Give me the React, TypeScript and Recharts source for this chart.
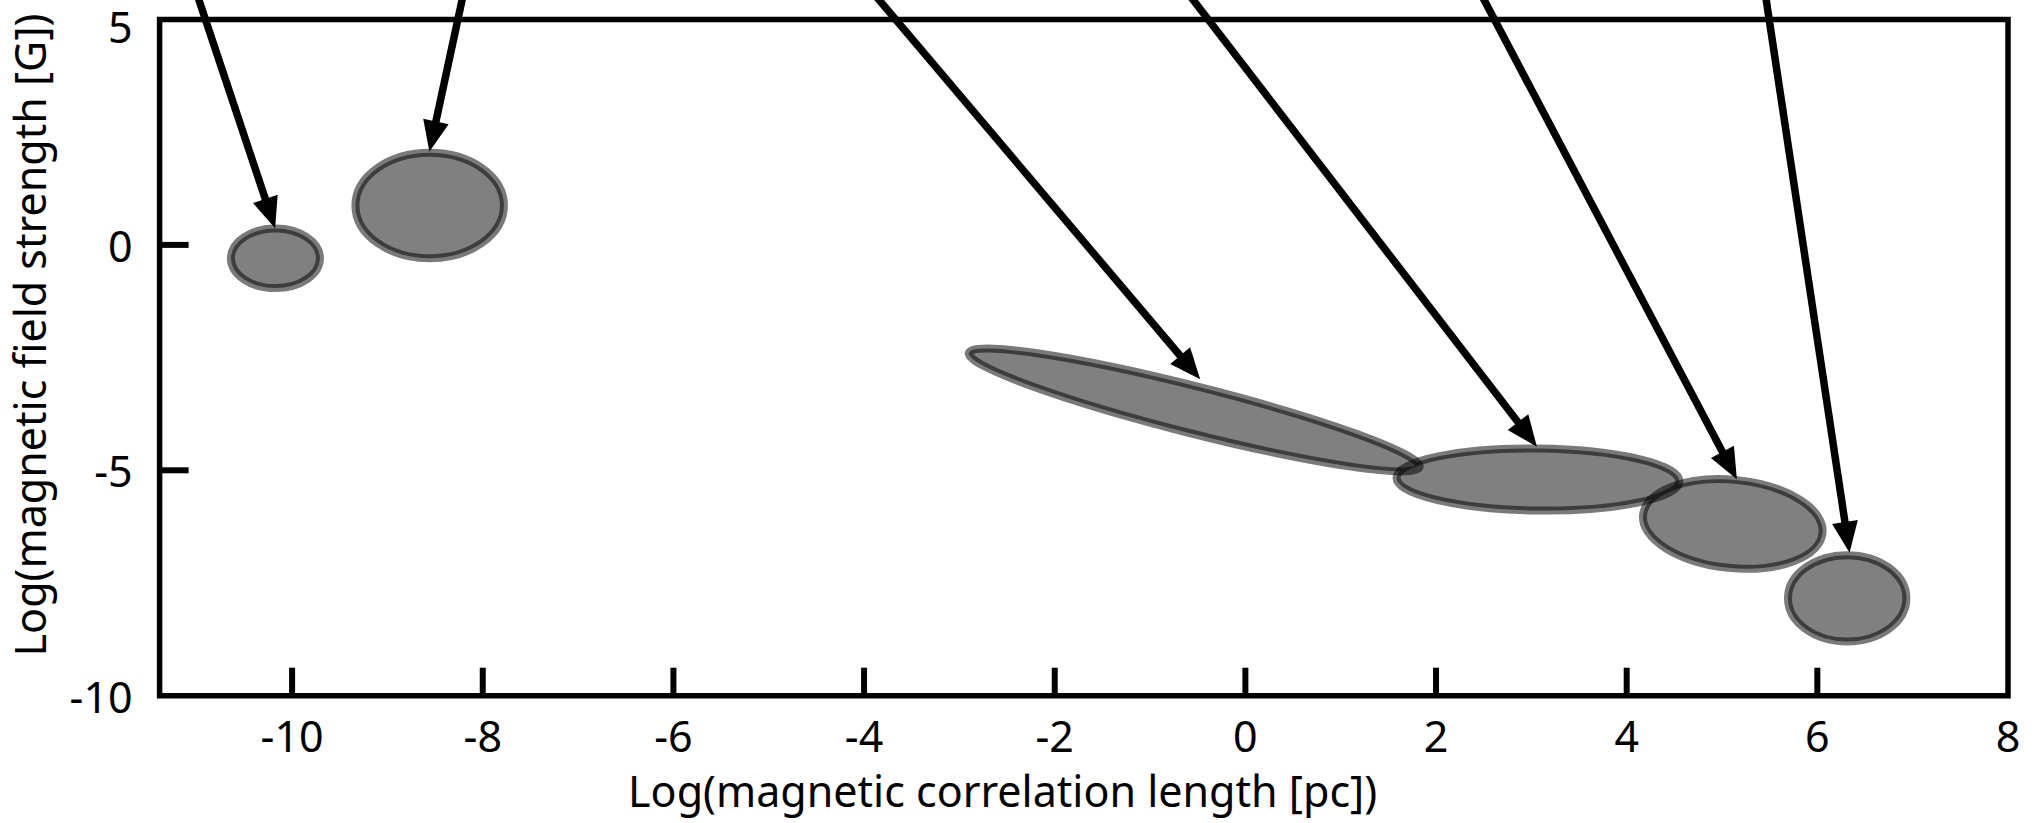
import React from 'react';
import { ComposedChart, XAxis, YAxis, ReferenceArea, ReferenceLine, Scatter } from 'recharts';

// ---- axes ----
const xDomain: [number, number] = [-11.39, 8];
const yDomain: [number, number] = [-10, 5];
const xTicks = [-10, -8, -6, -4, -2, 0, 2, 4, 6, 8];
const yTicks = [5, 0, -5, -10];
const xTitle = 'Log(magnetic correlation length [pc])';
const yTitle = 'Log(magnetic field strength [G])';

// ---- ellipses (data units) ----
const ellipseCenterX = [-10.175, -8.557, -0.537, 3.069, 5.113, 6.313];
const ellipseCenterY = [-0.297, 0.874, -3.662, -5.204, -6.191, -7.84];
const ellipseHalfX = [0.467, 0.779, 2.439, 1.484, 0.946, 0.621];
const ellipseHalfY = [0.661, 1.169, 0.521, 0.688, 0.978, 0.958];
const ellipseTilt = [0, 0, 14.2, 0.7, 5.8, 0];

// ---- arrows (data units) ----
const arrowFromX = [-11.004, -8.2, -3.909, -0.608, 2.463, 5.452];
const arrowFromY = [5.6, 5.6, 5.6, 5.6, 5.6, 5.6];
const arrowToX = [-10.178, -8.56, -0.474, 3.058, 5.156, 6.338];
const arrowToY = [0.368, 2.067, -2.982, -4.476, -5.2, -6.828];

const FONT = '"Noto Sans", "Open Sans", sans-serif';
const FS = 43;

const centers = ellipseCenterX.map((x, i) => ({ x, y: ellipseCenterY[i] }));

const XTick = (props: any) => {
  const { x, y, payload } = props;
  const v = payload.value;
  return (
    <g>
      {v !== xDomain[0] && v !== xDomain[1] && (
        <line x1={x} y1={y} x2={x} y2={y - 28} stroke="#000" strokeWidth={6} />
      )}
      <text x={x} y={y + 56} textAnchor="middle" fontFamily={FONT} fontSize={FS} fill="#000">
        {v}
      </text>
    </g>
  );
};

const YTick = (props: any) => {
  const { x, y, payload, index } = props;
  const v = payload.value;
  return (
    <g>
      {v !== yDomain[0] && v !== yDomain[1] && (
        <line x1={x} y1={y} x2={x + 29} y2={y} stroke="#000" strokeWidth={6} />
      )}
      <text x={x - 27} y={y + 17 + (index === 0 ? 6 : 0)} textAnchor="end" fontFamily={FONT} fontSize={FS} fill="#000">
        {v}
      </text>
    </g>
  );
};

const makeEllipseFill = (tilt: number) => (p: any) => {
  const cx = p.x + p.width / 2;
  const cy = p.y + p.height / 2;
  return (
    <ellipse cx={cx} cy={cy} rx={p.width / 2} ry={p.height / 2}
      transform={`rotate(${tilt} ${cx} ${cy})`} fill="#808080" stroke="none" />
  );
};
const makeEllipseStroke = (tilt: number) => (p: any) => {
  const cx = p.x + p.width / 2;
  const cy = p.y + p.height / 2;
  return (
    <ellipse cx={cx} cy={cy} rx={p.width / 2} ry={p.height / 2}
      transform={`rotate(${tilt} ${cx} ${cy})`} fill="none" stroke="#000" strokeOpacity={0.52} strokeWidth={8} />
  );
};

const arrowShape = (p: any) => {
  const { x1, y1, x2, y2 } = p;
  const dx = x2 - x1;
  const dy = y2 - y1;
  const len = Math.sqrt(dx * dx + dy * dy) || 1;
  const ux = dx / len;
  const uy = dy / len;
  const headLen = 31;
  const headHalf = 13;
  const bx = x2 - ux * headLen;
  const by = y2 - uy * headLen;
  const px = -uy;
  const py = ux;
  return (
    <g>
      <line x1={x1} y1={y1} x2={bx + ux * 3} y2={by + uy * 3} stroke="#000" strokeWidth={7.5} />
      <polygon
        points={`${x2},${y2} ${bx + px * headHalf},${by + py * headHalf} ${bx - px * headHalf},${by - py * headHalf}`}
        fill="#000"
      />
    </g>
  );
};

const XTitle = () => (
  <text x={1002.6} y={807} textAnchor="middle" fontFamily={FONT} fontSize={FS} fill="#000">
    {xTitle}
  </text>
);
const YTitle = () => (
  <text x={46} y={335} transform="rotate(-90 46 335)" textAnchor="middle" fontFamily={FONT} fontSize={FS} fill="#000">
    {yTitle}
  </text>
);

export default function App() {
  return (
    <div style={{ position: 'absolute', left: 0, top: 0, width: 2035, height: 823, background: '#fff' }}>
      <ComposedChart width={2035} height={823} data={centers}
        margin={{ top: 19.5, right: 27, bottom: 0, left: 0 }}>
        <XAxis type="number" dataKey="x" domain={xDomain} ticks={xTicks} allowDataOverflow
          axisLine={false} tickLine={false} tickSize={0} tickMargin={0} height={127.3}
          tick={<XTick />} interval={0} label={XTitle} />
        <YAxis type="number" dataKey="y" domain={yDomain} ticks={yTicks} allowDataOverflow
          axisLine={false} tickLine={false} tickSize={0} tickMargin={0} width={159.6}
          tick={<YTick />} interval={0} label={YTitle} />
        <ReferenceArea x1={xDomain[0]} x2={xDomain[1]} y1={yDomain[0]} y2={yDomain[1]}
          ifOverflow="visible" fill="none" stroke="#000" strokeWidth={5.5} fillOpacity={0} strokeOpacity={1} />
        {ellipseCenterX.map((cx, i) => (
          <ReferenceArea key={`ef${i}`} x1={cx - ellipseHalfX[i]} x2={cx + ellipseHalfX[i]}
            y1={ellipseCenterY[i] - ellipseHalfY[i]} y2={ellipseCenterY[i] + ellipseHalfY[i]}
            ifOverflow="visible" shape={makeEllipseFill(ellipseTilt[i])} />
        ))}
        {ellipseCenterX.map((cx, i) => (
          <ReferenceArea key={`es${i}`} x1={cx - ellipseHalfX[i]} x2={cx + ellipseHalfX[i]}
            y1={ellipseCenterY[i] - ellipseHalfY[i]} y2={ellipseCenterY[i] + ellipseHalfY[i]}
            ifOverflow="visible" shape={makeEllipseStroke(ellipseTilt[i])} />
        ))}
        {arrowFromX.map((fx, i) => (
          <ReferenceLine key={`ar${i}`} ifOverflow="visible"
            segment={[{ x: fx, y: arrowFromY[i] }, { x: arrowToX[i], y: arrowToY[i] }]}
            shape={arrowShape} />
        ))}
        <Scatter dataKey="y" isAnimationActive={false} shape={() => <g />} legendType="none" />
      </ComposedChart>
    </div>
  );
}
